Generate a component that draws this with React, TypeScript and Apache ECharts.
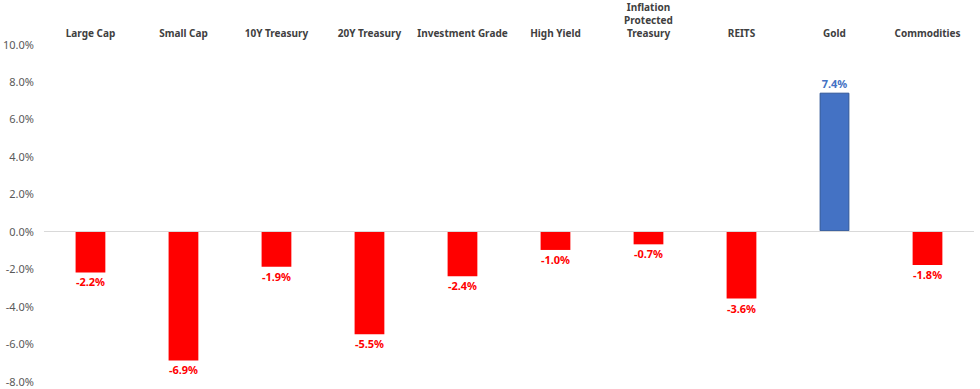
import React, { useEffect, useRef } from "react";
import * as echarts from "echarts";

const categories = [
  "Large Cap",
  "Small Cap",
  "10Y Treasury",
  "20Y Treasury",
  "Investment Grade",
  "High Yield",
  "Inflation\nProtected\nTreasury",
  "REITS",
  "Gold",
  "Commodities",
];
const returns = [-2.2, -6.9, -1.9, -5.5, -2.4, -1.0, -0.7, -3.6, 7.4, -1.8];
const yTicks = { min: -8, max: 10, interval: 2 };

const RED = "#FF0000";
const BLUE = "#4472C4";
const BLUE_BORDER = "#2F5597";
const FONT = "Noto Sans";

export default function App() {
  const ref = useRef<HTMLDivElement>(null);
  useEffect(() => {
    if (!ref.current) return;
    const chart = echarts.init(ref.current, null, { renderer: "svg" });
    chart.setOption({
      animation: false,
      backgroundColor: "#ffffff",
      textStyle: { fontFamily: FONT },
      grid: { left: 43, right: 6, top: 44, bottom: 8, containLabel: false },
      xAxis: {
        type: "category",
        data: categories,
        position: "top",
        axisLine: { show: false },
        axisTick: { show: false },
        axisLabel: {
          interval: 0,
          margin: 5,
          color: "#404040",
          fontWeight: "bold",
          fontSize: 10,
          lineHeight: 13,
          fontFamily: FONT,
        },
      },
      yAxis: {
        type: "value",
        min: yTicks.min,
        max: yTicks.max,
        interval: yTicks.interval,
        axisLine: { show: false },
        axisTick: { show: false },
        splitLine: { show: false },
        axisLabel: {
          margin: 10,
          color: "#595959",
          fontSize: 11,
          fontFamily: FONT,
          formatter: (v: number) => v.toFixed(1) + "%",
        },
      },
      series: [
        {
          type: "bar",
          barWidth: "32%",
          data: returns.map((v) => ({
            value: v,
            itemStyle:
              v >= 0
                ? { color: BLUE, borderColor: BLUE_BORDER, borderWidth: 1 }
                : { color: RED },
            label: {
              show: true,
              position: v >= 0 ? "top" : "bottom",
              distance: 4,
              color: v >= 0 ? BLUE : RED,
              fontWeight: "bold",
              fontSize: 11,
              fontFamily: FONT,
              formatter: () => v.toFixed(1) + "%",
            },
          })),
          markLine: {
            silent: true,
            symbol: "none",
            label: { show: false },
            lineStyle: { color: "#D9D9D9", type: "solid", width: 1 },
            data: [{ yAxis: 0 }],
          },
        },
      ],
    });
    return () => chart.dispose();
  }, []);
  return (
    <div
      ref={ref}
      style={{ position: "fixed", left: 0, top: 0, width: 980, height: 389 }}
    />
  );
}
